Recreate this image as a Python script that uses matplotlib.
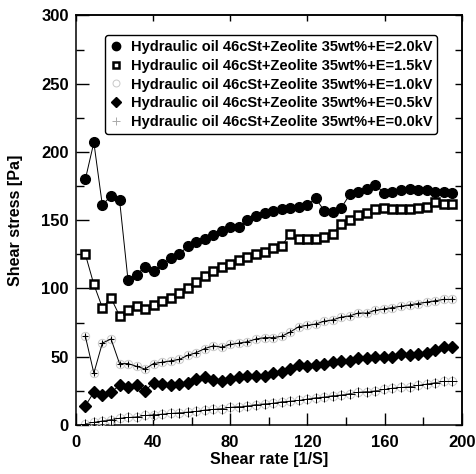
import matplotlib
matplotlib.use("Agg")
import matplotlib.pyplot as plt
from matplotlib.lines import Line2D
from matplotlib.ticker import MultipleLocator

plt.rcParams['font.family'] = ['Liberation Sans', 'DejaVu Sans']
plt.rcParams['font.weight'] = 'bold'

shear_rate = [5.0, 9.4, 13.8, 18.3, 22.7, 27.1, 31.5, 35.9, 40.3, 44.8, 49.2,
              53.6, 58.0, 62.4, 66.9, 71.3, 75.7, 80.1, 84.5, 88.9, 93.4, 97.8,
              102.2, 106.6, 111.0, 115.5, 119.9, 124.3, 128.7, 133.1, 137.5, 142.0,
              146.4, 150.8, 155.2, 159.6, 164.0, 168.5, 172.9, 177.3, 181.7, 186.1,
              190.6, 195.0]

stress_2_0 = [180, 207, 161, 168, 165, 106, 110, 116, 113, 118, 122,
              125, 131, 134, 136, 139, 142, 145, 145, 150, 153, 155,
              157, 158, 159, 160, 161, 166, 157, 156, 159, 169,
              171, 173, 176, 170, 171, 172, 173, 172, 172, 171,
              171, 170]

stress_1_5 = [125, 103, 86, 93, 80, 84, 87, 85, 88, 91, 93,
              97, 100, 105, 109, 113, 116, 118, 121, 123, 125, 127,
              130, 131, 140, 136, 136, 136, 138, 140, 147, 150,
              154, 155, 158, 159, 158, 158, 158, 159, 160, 163,
              162, 162]

stress_1_0 = [65, 38, 60, 63, 45, 45, 43, 41, 45, 46, 47,
              48, 51, 53, 56, 58, 57, 59, 60, 61, 63, 64,
              64, 65, 68, 72, 73, 74, 76, 77, 79, 80,
              82, 82, 84, 85, 86, 87, 88, 89, 90, 91,
              92, 92]

stress_0_5 = [14, 24, 22, 24, 29, 28, 29, 25, 31, 30, 29,
              30, 31, 34, 35, 33, 32, 34, 35, 36, 36, 36,
              38, 39, 41, 44, 43, 44, 45, 46, 47, 47,
              49, 49, 50, 50, 50, 52, 51, 52, 53, 55,
              57, 57]

stress_0_0 = [1, 2, 3, 4, 5, 5.5, 6, 7, 7.5, 8, 8.5,
              9, 9.5, 10, 11, 11.5, 12, 13, 13.5, 14, 15, 15.5,
              16, 17, 17.5, 18, 19, 20, 20.5, 21.5, 22, 23,
              24, 24.5, 25, 26, 27, 27.5, 28, 29, 30, 31,
              32, 32]

labels = ["Hydraulic oil 46cSt+Zeolite 35wt%+E=2.0kV",
          "Hydraulic oil 46cSt+Zeolite 35wt%+E=1.5kV",
          "Hydraulic oil 46cSt+Zeolite 35wt%+E=1.0kV",
          "Hydraulic oil 46cSt+Zeolite 35wt%+E=0.5kV",
          "Hydraulic oil 46cSt+Zeolite 35wt%+E=0.0kV"]

fig = plt.figure(figsize=(4.77, 4.74), dpi=100)
ax = fig.add_axes([0.1587, 0.1034, 0.8096, 0.8639])

lw = 0.7
ax.plot(shear_rate, stress_2_0, '-', color='black', lw=lw, marker='o', ms=7,
        mfc='black', mec='black', zorder=5)
ax.plot(shear_rate, stress_1_5, '-', color='black', lw=lw, marker='s', ms=6,
        mfc='white', mec='black', mew=1.8, zorder=5)
ax.plot(shear_rate, stress_1_0, ' ', marker='o', ms=6, mfc='none',
        mec='#c8c8c8', mew=0.7, zorder=3)
ax.plot(shear_rate, stress_1_0, '-', color='black', lw=lw, marker='+', ms=5,
        mew=0.8, zorder=4)
ax.plot(shear_rate, stress_0_5, '-', color='black', lw=lw, marker='D', ms=6,
        mfc='black', mec='black', zorder=5)
ax.plot(shear_rate, stress_0_0, ' ', marker='o', ms=6, mfc='none',
        mec='#c8c8c8', mew=0.7, zorder=3)
ax.plot(shear_rate, stress_0_0, '-', color='black', lw=0.5, marker='+', ms=7,
        mew=0.7, zorder=4)

ax.set_xlim(0, 200)
ax.set_ylim(0, 300)
ax.xaxis.set_major_locator(MultipleLocator(40))
ax.xaxis.set_minor_locator(MultipleLocator(20))
ax.yaxis.set_major_locator(MultipleLocator(50))
ax.yaxis.set_minor_locator(MultipleLocator(25))
ax.tick_params(which='major', direction='in', length=9, width=1.0,
               labelsize=12, pad=7, top=False, right=False)
ax.tick_params(which='minor', direction='in', length=5.5, width=1.0,
               top=False, right=False)
ax.tick_params(axis='y', which='major', pad=5)
for lab in ax.get_xticklabels() + ax.get_yticklabels():
    lab.set_fontweight('bold')

secx = ax.secondary_xaxis('top')
secx.xaxis.set_major_locator(MultipleLocator(40))
secx.tick_params(direction='in', length=4, width=1.0, labeltop=False)
secy = ax.secondary_yaxis('right')
secy.yaxis.set_major_locator(MultipleLocator(25))
secy.tick_params(direction='in', length=5, width=1.0, labelright=False)

for sp in ax.spines.values():
    sp.set_linewidth(1.1)
secx.spines['top'].set_linewidth(1.1)
secy.spines['right'].set_linewidth(1.1)

ax.set_xlabel("Shear rate [1/S]", fontsize=11.5, fontweight='bold', labelpad=2)
ax.set_ylabel("Shear stress [Pa]", fontsize=11.5, fontweight='bold', labelpad=13)

handles = [
    Line2D([], [], ls='none', marker='o', ms=6, mfc='black', mec='black'),
    Line2D([], [], ls='none', marker='s', ms=5, mfc='white', mec='black', mew=1.8),
    Line2D([], [], ls='none', marker='o', ms=5, mfc='none', mec='#c8c8c8', mew=0.7),
    Line2D([], [], ls='none', marker='D', ms=5, mfc='black', mec='black'),
    Line2D([], [], ls='none', marker='+', ms=6, mec='#aaaaaa', mew=0.7),
]
leg = ax.legend(handles, labels, loc='upper left', bbox_to_anchor=(0.076, 0.952),
                prop={'family': 'Liberation Sans', 'weight': 'bold', 'size': 10.5},
                frameon=True, fancybox=True, edgecolor='black', framealpha=1,
                handlelength=0.8, handletextpad=0.6, labelspacing=0.32,
                borderpad=0.35, borderaxespad=0)
leg.get_frame().set_linewidth(1.0)

fig.savefig("out.png", dpi=100)
